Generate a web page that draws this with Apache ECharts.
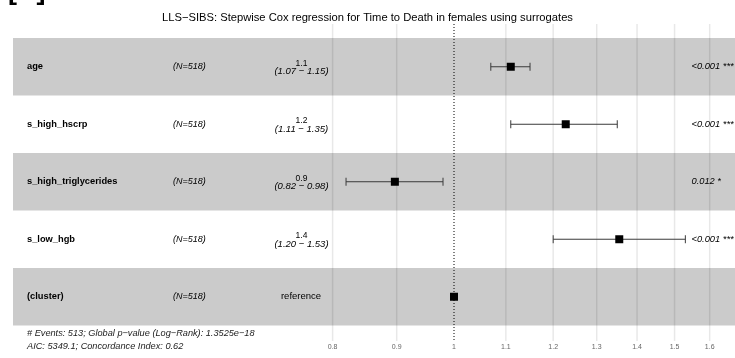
<!DOCTYPE html>
<html>
<head>
<meta charset="utf-8">
<script src="https://cdn.jsdelivr.net/npm/echarts@6/dist/echarts.min.js"></script>
<style>
  html, body { margin: 0; padding: 0; background: #fff; }
  #chart { width: 735px; height: 358px; }
</style>
</head>
<body>
<div id="chart"></div>
<script>
// rows of the forest plot, top to bottom
const variables = ['age', 's_high_hscrp', 's_high_triglycerides', 's_low_hgb', '(cluster)']
const nCounts = [518, 518, 518, 518, 518]
const hazard = [1.11, 1.228, 0.897, 1.355, 1]
const ciLow = [1.07, 1.11, 0.82, 1.20, null]
const ciHigh = [1.15, 1.35, 0.98, 1.53, null]
const pLabels = ['<0.001 ***', '<0.001 ***', '0.012 *', '<0.001 ***', '']
const xTicks = [0.8, 0.9, 1, 1.1, 1.2, 1.3, 1.4, 1.5, 1.6]

const titleText = 'LLS\u2212SIBS: Stepwise Cox regression for Time to Death in females using surrogates'
const footerLines = [
  '# Events: 513; Global p\u2212value (Log\u2212Rank): 1.3525e\u221218',
  'AIC: 5349.1; Concordance Index: 0.62'
]

const FONT = '"Liberation Sans", Arial, Helvetica, sans-serif'
// axis extents (log x so that 1 sits at x=454, 544px per ln unit)
const XMIN = Math.exp((13 - 454) / 544)
const XMAX = Math.exp((735 - 454) / 544)
const YMIN = -0.7435
const YMAX = 4.7696
const BAND = '#cbcbcb'

var myChart = echarts.init(document.getElementById('chart'), null, { renderer: 'canvas' })

function txt(x, y, text, opts) {
  return {
    type: 'text',
    x: x, y: y,
    style: Object.assign({
      text: text,
      fontFamily: FONT,
      fontSize: 9,
      fill: '#000',
      align: 'left',
      verticalAlign: 'middle'
    }, opts || {})
  }
}

const option = {
  animation: false,
  title: {
    text: titleText,
    left: 'center',
    top: 7,
    textStyle: { fontFamily: FONT, fontSize: 11.2, fontWeight: 'normal', color: '#000' }
  },
  graphic: [
    txt(8, 5, '[C]', { fontSize: 27, fontWeight: 'bold', verticalAlign: 'bottom' }),
    txt(27, 333, footerLines[0], { fontStyle: 'italic', fill: '#222', fontSize: 9.2 }),
    txt(27, 346, footerLines[1], { fontStyle: 'italic', fill: '#222', fontSize: 9.2 })
  ],
  grid: { left: 13, right: 0, top: 24, bottom: 17 },
  xAxis: {
    type: 'log',
    logBase: 10,
    min: XMIN,
    max: XMAX,
    axisLine: { show: false },
    axisTick: { show: false },
    axisLabel: { show: false },
    splitLine: { show: false }
  },
  yAxis: {
    type: 'value',
    inverse: true,
    min: YMIN,
    max: YMAX,
    show: false,
    splitLine: { show: false }
  },
  series: [
    // alternating grey bands
    {
      type: 'custom',
      z: 1,
      data: [0, 2, 4].map(i => [1, i]),
      renderItem: (params, api) => {
        var i = api.value(1)
        var a = api.coord([XMIN, i - 0.5])
        var b = api.coord([XMAX, i + 0.5])
        return {
          type: 'rect',
          shape: { x: a[0], y: Math.min(a[1], b[1]), width: b[0] - a[0], height: Math.abs(b[1] - a[1]) },
          style: { fill: BAND }
        }
      }
    },
    // vertical grid lines + tick labels
    {
      type: 'custom',
      z: 2,
      data: xTicks.map(t => [t, YMAX]),
      renderItem: (params, api) => {
        var t = api.value(0)
        var top = api.coord([t, YMIN])
        var bot = api.coord([t, YMAX])
        var line = t === 1
          ? { stroke: '#000', lineWidth: 1, lineDash: [1, 2] }
          : { stroke: 'rgba(0,0,0,0.09)', lineWidth: 1.5 }
        return {
          type: 'group',
          children: [
            { type: 'line', shape: { x1: top[0], y1: top[1], x2: bot[0], y2: bot[1] }, style: line },
            txt(bot[0], bot[1] + 6, String(t), { align: 'center', fontSize: 7, fill: '#666' })
          ]
        }
      }
    },
    // confidence intervals
    {
      type: 'custom',
      z: 4,
      data: variables.map((v, i) => [ciLow[i], ciHigh[i], i]).filter(d => d[0] != null),
      encode: { x: [0, 1], y: 2 },
      renderItem: (params, api) => {
        var lo = api.coord([api.value(0), api.value(2)])
        var hi = api.coord([api.value(1), api.value(2)])
        var st = { stroke: '#3a3a3a', lineWidth: 1 }
        return {
          type: 'group',
          children: [
            { type: 'line', shape: { x1: lo[0], y1: lo[1], x2: hi[0], y2: hi[1] }, style: st },
            { type: 'line', shape: { x1: lo[0], y1: lo[1] - 4, x2: lo[0], y2: lo[1] + 4 }, style: st },
            { type: 'line', shape: { x1: hi[0], y1: hi[1] - 4, x2: hi[0], y2: hi[1] + 4 }, style: st }
          ]
        }
      }
    },
    // point estimates
    {
      type: 'scatter',
      z: 5,
      symbol: 'rect',
      symbolSize: 8,
      itemStyle: { color: '#000', opacity: 1 },
      data: hazard.map((h, i) => [h, i])
    },
    // table text
    {
      type: 'custom',
      z: 6,
      data: variables.map((v, i) => [1, i]),
      renderItem: (params, api) => {
        var i = params.dataIndex
        var y = api.coord([1, i])[1]
        var children = [
          txt(27, y, variables[i], { fontWeight: 'bold', fontSize: 9.3 }),
          txt(173, y, '(N=' + nCounts[i] + ')', { fontStyle: 'italic' })
        ]
        if (ciLow[i] == null) {
          children.push(txt(301, y, 'reference', { align: 'center', fontSize: 9.5 }))
        } else {
          children.push(txt(301.5, y - 3.5, hazard[i].toFixed(1), { align: 'center', fontSize: 8.5 }))
          children.push(txt(301.5, y + 5, '(' + ciLow[i].toFixed(2) + ' \u2212 ' + ciHigh[i].toFixed(2) + ')', { align: 'center', fontStyle: 'italic', fontSize: 9.5 }))
        }
        if (pLabels[i]) {
          children.push(txt(691.5, y, pLabels[i], { fontStyle: 'italic', fontSize: 9.3 }))
        }
        return { type: 'group', children: children }
      }
    }
  ]
}

myChart.setOption(option)
</script>
</body>
</html>
